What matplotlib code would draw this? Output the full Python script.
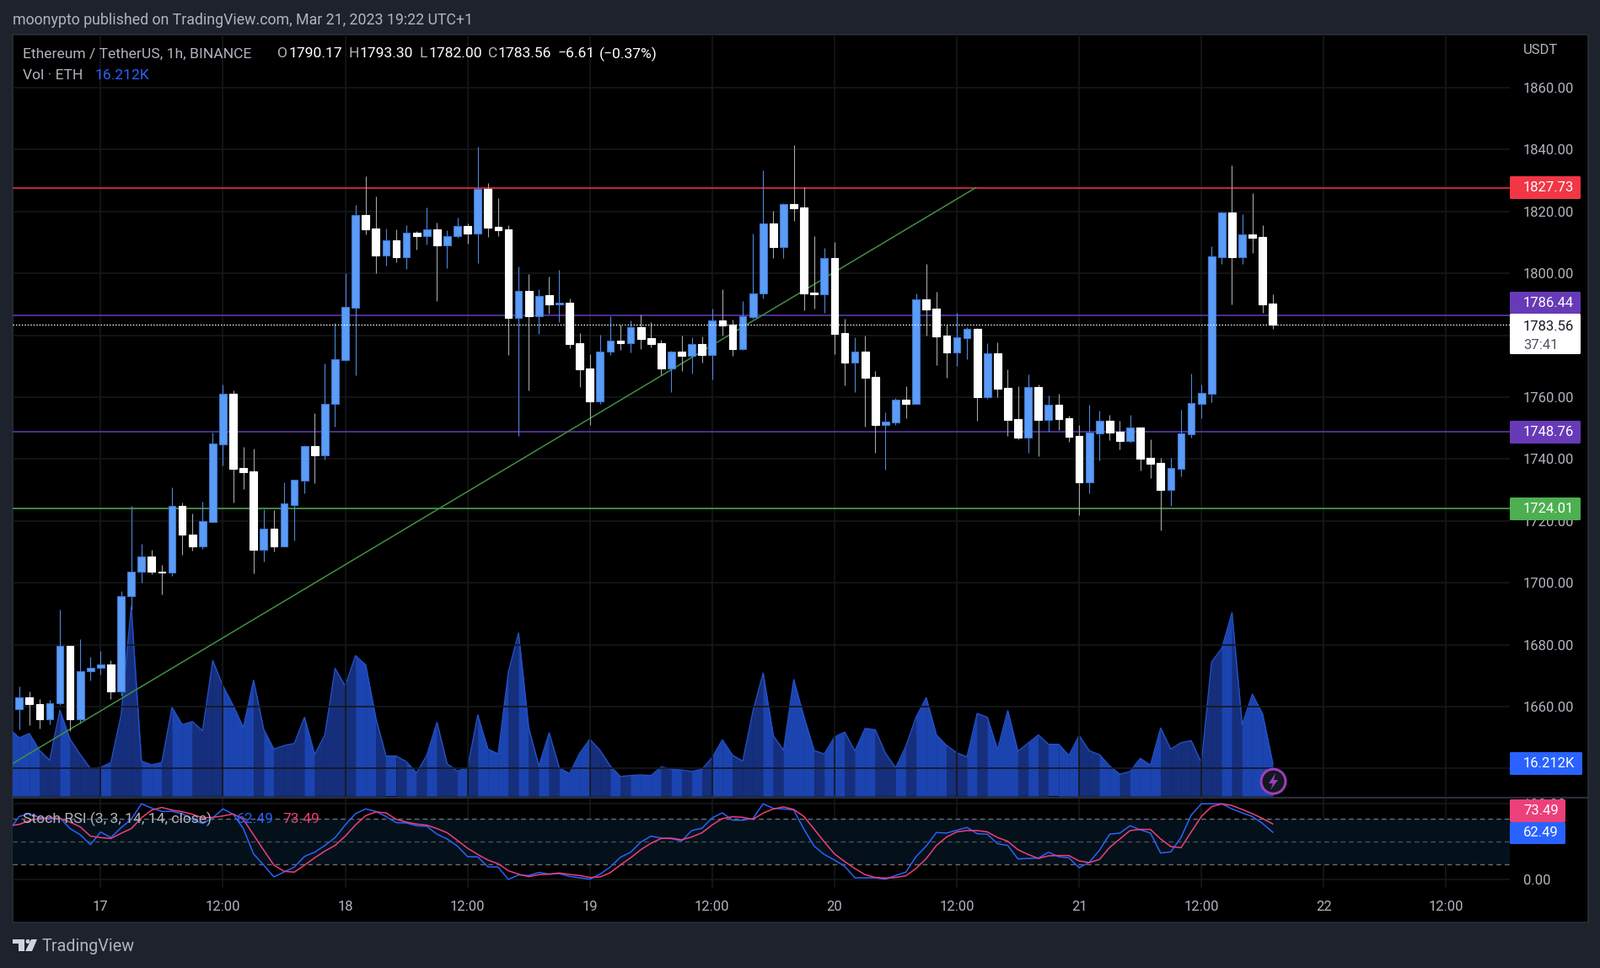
import matplotlib
matplotlib.use("Agg")
import matplotlib.pyplot as plt
from matplotlib.patches import FancyBboxPatch, Circle, Polygon, Rectangle

plt.rcParams["font.family"] = "Roboto"

# hourly candles, hour 0 = Mar 17 00:00, first candle is hour -8
opens = [1659.1, 1663.0, 1660.8, 1656.0, 1661.0, 1679.6, 1656.0, 1671.3, 1672.4, 1673.6, 1665.0, 1695.7,
         1703.6, 1708.5, 1703.6, 1703.2, 1724.8, 1715.6, 1711.9, 1719.8, 1744.8, 1761.0, 1737.0, 1735.9,
         1710.8, 1717.5, 1711.9, 1725.2, 1733.1, 1744.2, 1741.3, 1757.7, 1772.1, 1789.0, 1818.8, 1814.5,
         1805.9, 1810.7, 1805.3, 1813.2, 1812.2, 1814.3, 1809.2, 1812.2, 1815.3, 1813.0, 1827.3, 1815.1,
         1814.3, 1785.7, 1794.4, 1786.3, 1793.0, 1790.0, 1790.5, 1777.5, 1769.3, 1758.7, 1774.6, 1778.2,
         1777.5, 1782.6, 1779.0, 1777.5, 1769.3, 1774.7, 1773.4, 1777.2, 1773.6, 1784.8, 1783.5, 1775.6,
         1786.0, 1793.4, 1816.2, 1808.5, 1822.4, 1821.3, 1793.8, 1793.3, 1805.0, 1780.7, 1771.2, 1774.7,
         1766.6, 1751.0, 1751.8, 1759.2, 1757.8, 1791.6, 1788.6, 1779.9, 1774.5, 1779.1, 1782.1, 1760.0,
         1774.2, 1763.0, 1753.0, 1747.0, 1763.3, 1752.7, 1757.6, 1753.2, 1747.5, 1732.5, 1748.3, 1752.4,
         1748.9, 1745.9, 1750.2, 1740.4, 1738.8, 1730.1, 1736.9, 1748.0, 1757.8, 1761.2, 1805.3, 1819.7,
         1805.3, 1812.6, 1811.8, 1790.17]
highs = [1666.5, 1664.9, 1662.4, 1662.1, 1691.3, 1679.6, 1681.8, 1676.1, 1678.0, 1675.0, 1697.4, 1724.9,
         1712.6, 1710.7, 1705.8, 1730.9, 1726.0, 1722.4, 1726.3, 1748.5, 1764.1, 1762.1, 1743.9, 1743.3,
         1723.8, 1723.5, 1732.4, 1733.2, 1744.5, 1754.8, 1770.9, 1784.0, 1800.1, 1822.2, 1831.3, 1824.9,
         1814.5, 1814.2, 1815.6, 1813.7, 1821.3, 1816.4, 1814.0, 1818.1, 1816.2, 1841.0, 1829.2, 1824.3,
         1815.6, 1802.3, 1799.8, 1794.9, 1799.0, 1801.2, 1791.9, 1780.7, 1773.9, 1780.2, 1786.2, 1783.5,
         1784.8, 1786.6, 1784.2, 1778.5, 1775.0, 1779.9, 1779.4, 1779.6, 1788.6, 1794.9, 1785.1, 1791.1,
         1812.9, 1833.3, 1820.2, 1822.7, 1841.5, 1827.9, 1812.1, 1808.3, 1810.2, 1785.4, 1779.4, 1779.9,
         1768.5, 1755.1, 1759.8, 1763.6, 1793.5, 1803.1, 1794.1, 1783.5, 1787.3, 1782.6, 1782.3, 1777.5,
         1777.7, 1769.0, 1763.6, 1767.4, 1764.1, 1760.6, 1761.1, 1754.0, 1751.0, 1757.6, 1755.7, 1754.3,
         1752.4, 1754.3, 1750.2, 1746.4, 1740.4, 1740.4, 1755.9, 1767.7, 1764.1, 1808.8, 1820.0, 1834.9,
         1819.2, 1826.0, 1815.6, 1793.30]
lows = [1652.7, 1654.1, 1653.0, 1654.3, 1660.6, 1652.2, 1654.5, 1668.5, 1670.4, 1662.5, 1663.6, 1691.3,
        1700.1, 1702.9, 1696.3, 1702.3, 1709.1, 1710.5, 1711.0, 1719.8, 1737.8, 1726.0, 1730.4, 1703.1,
        1707.0, 1710.0, 1711.9, 1713.8, 1729.0, 1732.3, 1739.9, 1750.6, 1771.6, 1767.1, 1812.7, 1800.2,
        1802.5, 1803.6, 1801.4, 1807.7, 1809.4, 1791.1, 1801.7, 1811.5, 1809.6, 1803.4, 1811.8, 1812.1,
        1773.7, 1747.6, 1762.2, 1780.5, 1787.0, 1784.3, 1775.8, 1763.3, 1751.0, 1757.8, 1773.7, 1775.3,
        1774.5, 1775.6, 1776.1, 1767.0, 1761.7, 1768.5, 1767.6, 1771.2, 1765.7, 1779.9, 1773.4, 1775.3,
        1785.4, 1791.9, 1805.0, 1805.0, 1817.0, 1788.1, 1788.6, 1787.3, 1773.9, 1763.8, 1761.7, 1750.5,
        1742.0, 1736.6, 1751.0, 1753.2, 1757.8, 1779.9, 1770.4, 1766.3, 1770.1, 1772.3, 1752.4, 1759.5,
        1760.0, 1747.5, 1746.4, 1742.0, 1741.0, 1748.9, 1749.4, 1745.6, 1721.9, 1729.0, 1739.6, 1746.1,
        1743.1, 1745.3, 1736.3, 1733.9, 1717.0, 1724.9, 1734.4, 1747.0, 1753.2, 1758.4, 1803.1, 1790.0,
        1803.1, 1806.6, 1787.3, 1782.00]
closes = [1663.0, 1660.7, 1656.0, 1661.0, 1679.6, 1656.0, 1671.4, 1672.5, 1673.6, 1665.0, 1695.7, 1703.6,
          1708.5, 1703.5, 1703.2, 1724.8, 1715.5, 1711.9, 1719.9, 1744.9, 1761.0, 1736.9, 1735.8, 1710.8,
          1717.4, 1711.9, 1725.6, 1733.2, 1744.1, 1741.3, 1757.7, 1772.2, 1789.1, 1818.8, 1814.3, 1805.9,
          1810.6, 1805.3, 1813.1, 1812.2, 1814.2, 1809.2, 1812.2, 1815.2, 1813.0, 1827.2, 1814.9, 1814.0,
          1785.7, 1794.3, 1786.2, 1792.6, 1790.0, 1790.5, 1777.2, 1769.0, 1758.7, 1774.6, 1778.2, 1777.5,
          1782.5, 1778.8, 1777.2, 1769.3, 1774.6, 1773.4, 1777.1, 1773.6, 1784.7, 1783.2, 1775.6, 1786.1,
          1793.5, 1816.1, 1808.5, 1822.3, 1821.1, 1793.5, 1793.3, 1804.9, 1780.5, 1771.2, 1774.6, 1766.3,
          1751.0, 1752.1, 1759.1, 1757.8, 1791.5, 1788.4, 1779.6, 1774.5, 1779.4, 1782.1, 1760.0, 1774.1,
          1762.7, 1752.7, 1747.0, 1763.2, 1752.7, 1757.5, 1753.0, 1747.2, 1732.5, 1748.6, 1752.3, 1748.6,
          1745.9, 1750.1, 1740.1, 1738.5, 1730.1, 1737.0, 1748.2, 1758.0, 1761.4, 1805.4, 1819.6, 1805.3,
          1812.6, 1811.5, 1790.0, 1783.56]

# volume and stoch rsi start one hour earlier (hour -9)
volumes = [33.3, 28.7, 30.8, 22.5, 17.6, 42.3, 28.0, 20.4, 13.6, 14.1, 16.5, 39.8, 93.4, 17.2, 15.4, 16.5,
           43.7, 35.2, 36.7, 32.2, 66.8, 54.3, 44.6, 33.8, 57.1, 32.8, 23.1, 24.9, 25.9, 38.8, 20.5, 30.1,
           62.9, 54.3, 69.2, 64.7, 38.4, 19.7, 19.7, 16.9, 11.4, 20.1, 36.3, 15.8, 12.3, 13.9, 39.9, 23.1,
           20.8, 61.0, 80.4, 33.5, 14.8, 31.2, 13.9, 11.1, 21.1, 28.0, 22.5, 14.8, 9.6, 10.1, 10.4, 10.1,
           14.4, 13.2, 12.8, 12.1, 13.2, 19.0, 27.7, 20.1, 17.2, 41.9, 60.6, 29.7, 22.5, 57.4, 39.1, 22.5,
           20.7, 29.1, 31.5, 22.2, 33.3, 32.7, 21.1, 13.9, 24.5, 38.8, 48.5, 30.1, 24.9, 21.3, 19.3, 40.7,
           38.8, 22.9, 42.1, 22.0, 26.1, 30.1, 25.5, 25.5, 20.0, 29.8, 22.3, 20.4, 14.8, 10.7, 12.1, 18.6,
           15.2, 33.5, 23.1, 26.3, 27.3, 16.5, 66.1, 72.8, 90.4, 35.2, 50.2, 40.5, 16.212]
stoch_k = [64.8, 83.3, 87.0, 82.2, 79.6, 81.5, 67.4, 59.2, 46.3, 62.9, 55.5, 68.5, 79.6, 100.0, 94.4, 90.0,
           90.0, 87.0, 79.6, 74.0, 81.5, 93.3, 86.3, 67.4, 34.0, 19.2, 3.7, 10.3, 16.6, 30.7, 36.3, 45.2,
           55.5, 72.2, 87.0, 93.3, 90.0, 83.3, 75.2, 74.8, 71.1, 70.4, 60.0, 53.7, 44.4, 30.4, 30.0, 17.0,
           16.7, 0.4, 6.3, 5.6, 9.6, 7.4, 8.1, 4.4, 2.6, 0.7, 7.4, 16.7, 29.6, 36.3, 49.6, 57.4, 54.8,
           54.1, 51.1, 64.8, 67.8, 81.5, 88.1, 78.5, 78.5, 80.7, 100.0, 94.0, 93.3, 91.9, 66.7, 44.4, 33.3,
           25.9, 17.8, 2.6, 2.6, 2.6, 0.7, 5.6, 10.0, 30.4, 44.4, 62.2, 61.5, 65.2, 68.9, 60.7, 60.0, 47.4,
           45.2, 27.4, 28.1, 28.5, 36.3, 30.4, 28.9, 15.9, 23.0, 38.9, 60.0, 61.5, 71.1, 65.9, 61.5, 35.2,
           36.7, 55.6, 85.2, 100.0, 100.0, 100.0, 93.3, 88.1, 83.3, 74.1, 62.49]
stoch_d = [71.1, 72.9, 77.8, 80.7, 81.5, 80.7, 75.9, 69.6, 57.4, 55.5, 54.4, 61.1, 67.4, 81.5, 91.8, 95.2,
           91.8, 89.6, 86.3, 81.5, 82.2, 84.0, 86.6, 79.6, 59.2, 38.9, 19.2, 11.1, 10.0, 19.2, 28.9, 37.8,
           45.2, 57.4, 72.2, 84.4, 89.3, 88.1, 79.6, 75.9, 73.3, 71.9, 67.4, 61.9, 51.9, 41.5, 33.3, 25.9,
           21.1, 11.9, 7.4, 4.1, 6.7, 7.4, 8.9, 7.0, 5.6, 3.0, 3.7, 9.3, 19.6, 28.9, 39.6, 48.1, 54.4,
           54.8, 52.6, 56.3, 61.9, 72.2, 80.7, 83.0, 82.2, 79.6, 87.8, 93.3, 95.9, 92.6, 83.3, 66.7, 50.0,
           34.0, 24.0, 14.8, 6.7, 3.0, 2.2, 3.0, 5.2, 14.8, 27.8, 45.2, 56.3, 63.0, 64.8, 64.8, 63.0, 55.6,
           50.7, 39.6, 33.3, 28.1, 31.5, 31.9, 31.9, 24.8, 22.6, 26.7, 42.6, 53.7, 64.8, 66.3, 66.3, 53.7,
           43.7, 42.2, 63.0, 83.3, 96.3, 100.0, 97.8, 92.6, 87.0, 80.7, 73.49]

price_ticks = [1640, 1660, 1680, 1700, 1720, 1740, 1760, 1780, 1800, 1820, 1840, 1860]
time_ticks = [0, 12, 24, 36, 48, 60, 72, 84, 96, 108, 120, 132]
time_labels = ["17", "12:00", "18", "12:00", "19", "12:00", "20", "12:00", "21", "12:00", "22", "12:00"]
trend_hours = [-8.63, 85.87]
trend_prices = [1641.6, 1827.73]
level_high = 1827.73
level_mid1 = 1786.44
level_mid2 = 1748.76
level_low = 1724.01
last_price = 1783.56

W, H = 1899, 1148
BG = "#1e222d"
GRID = "#15171b"
TXT = "#b2b5be"
BLUE = "#5b9cf6"
X_RANGE = (-8.635, 138.26)


def px_axes(left, top, right, bottom, z):
    a = fig.add_axes([left / W, 1 - bottom / H, (right - left) / W, (bottom - top) / H], zorder=z)
    a.patch.set_alpha(0)
    for s in a.spines.values():
        s.set_visible(False)
    return a


fig = plt.figure(figsize=(W / 100, H / 100), dpi=100, facecolor=BG)

# overlay in pixel coords for frame, legend text and price tags
back = px_axes(0, 0, W, H, 0)
back.set_xlim(0, W)
back.set_ylim(H, 0)
back.axis("off")
back.add_patch(Rectangle((15, 41), 1869, 1053, fc="black", ec="#2a2e39", lw=1.2))

# volume pane sits under the candles
vol_ax = px_axes(15, 41, 1791, 944, 1)
vol_ax.set_xlim(*X_RANGE)
vol_ax.set_ylim(0, 375.4)
vol_ax.axis("off")
vol_hours = list(range(-9, 116))
for i in range(len(vol_hours) - 1):
    # candle index is one behind the volume index
    down = i == 0 or closes[i] < opens[i]
    vol_ax.fill_between(vol_hours[i:i + 2], volumes[i:i + 2], 0, color="#1c44b0" if down else "#162f7c", lw=0.3)
vol_ax.plot(vol_hours, volumes, color="#2450c8", lw=1)

# candles
ax = px_axes(15, 41, 1791, 944, 2)
ax.set_xlim(*X_RANGE)
ax.set_ylim(1631.1, 1877.2)
ax.set_xticks(time_ticks)
ax.set_yticks(price_ticks)
ax.set_yticklabels(["%.2f" % p for p in price_ticks])
ax.yaxis.tick_right()
ax.tick_params(axis="y", length=0, pad=11.5, labelsize=12, labelcolor=TXT)
ax.tick_params(axis="x", length=0, labelbottom=False)
ax.grid(True, color=GRID, lw=1.2)
ax.set_axisbelow(True)

hours = list(range(-8, 116))
ax.hlines(level_high, *X_RANGE, color="#f23645", lw=1.1, zorder=2)
ax.hlines(level_mid1, *X_RANGE, color="#673ab7", lw=1.1, zorder=2)
ax.hlines(level_mid2, *X_RANGE, color="#673ab7", lw=1.1, zorder=2)
ax.hlines(level_low, *X_RANGE, color="#4caf50", lw=1.1, zorder=2)
ax.plot(trend_hours, trend_prices, color="#3f9142", lw=1.1, zorder=2)

up = [c >= o for o, c in zip(opens, closes)]
wick_colors = ["#4f86dc" if u else "#a6a6a6" for u in up]
ax.vlines(hours, lows, highs, colors=wick_colors, lw=0.8, zorder=3)
body_bottom = [min(o, c) for o, c in zip(opens, closes)]
body_height = [abs(c - o) for o, c in zip(opens, closes)]
ax.bar(hours, body_height, bottom=body_bottom, width=0.72,
       color=[BLUE if u else "white" for u in up],
       edgecolor=["#3f76cc" if u else "white" for u in up], lw=0.8, zorder=4)
ax.hlines(last_price, X_RANGE[0], 115.4, color="white", lw=1, linestyles=(0, (1, 1.5)), zorder=5)
ax.hlines(last_price, 115.4, X_RANGE[1], color="white", lw=1, linestyles=(0, (1, 1.5)), zorder=5)

# stoch rsi pane
st = px_axes(15, 946, 1791, 1052.7, 3)
st.set_xlim(*X_RANGE)
st.set_ylim(-10.4, 108.1)
st.set_xticks(time_ticks)
st.set_xticklabels(time_labels)
st.set_yticks([0, 100])
st.set_yticklabels(["0.00", "100.00"])
st.yaxis.tick_right()
st.tick_params(axis="both", length=0, labelsize=12, labelcolor=TXT)
st.tick_params(axis="y", pad=11.5)
st.tick_params(axis="x", pad=11)
st.grid(True, color=GRID, lw=1.2)
st.set_axisbelow(True)
st.axhspan(20, 80, color="#05111a", lw=0, zorder=1)
for lvl in [80, 50, 20]:
    st.axhline(lvl, color="#787b86", lw=1, dashes=(4, 3), zorder=1.5, alpha=0.9 if lvl != 50 else 0.6)
st.plot(vol_hours, stoch_k, color="#2962ff", lw=1.1, zorder=3)
st.plot(vol_hours, stoch_d, color="#ec407a", lw=1.1, zorder=3)

# top layer: tags and legend
top = px_axes(0, 0, W, H, 5)
top.set_xlim(0, W)
top.set_ylim(H, 0)
top.axis("off")
top.plot([15, 1884], [946, 946], color="#2a2e39", lw=1.6)


def tag(y0, y1, right, fc, label, color="white", label2=None):
    top.add_patch(FancyBboxPatch((1791, y0), right - 1791, y1 - y0, boxstyle="round,pad=0,rounding_size=1.5",
                                 fc=fc, ec="none"))
    if label2:
        top.text(1807, y0 + 15, label, color=color, fontsize=12, va="center")
        top.text(1807, y0 + 37, label2, color="#50535e", fontsize=12, va="center")
    else:
        top.text(1807, (y0 + y1) / 2, label, color=color, fontsize=12, va="center")


tag(209, 236, 1875, "#f23645", "%.2f" % level_high)
tag(346, 372, 1875, "#673ab7", "%.2f" % level_mid1)
tag(372, 420, 1875, "white", "%.2f" % last_price, color="#131722", label2="37:41")
tag(499, 526, 1875, "#673ab7", "%.2f" % level_mid2)
tag(590, 617, 1875, "#4caf50", "%.2f" % level_low)
tag(892, 919, 1877, "#2962ff", "16.212K")
tag(948, 975, 1857, "#ec407a", "73.49")
tag(975, 1001, 1857, "#2962ff", "62.49")

top.text(1807, 60, "USDT", color=TXT, fontsize=12, va="center")

top.text(15, 24, "moonypto published on TradingView.com, Mar 21, 2023 19:22 UTC+1", color=TXT, fontsize=12.8, va="center")
top.text(27, 64, "Ethereum / TetherUS, 1h, BINANCE", color=TXT, fontsize=12.6, va="center")
for x, s, c in [(329, "O", TXT), (343, "1790.17", "white"), (414, "H", TXT), (427, "1793.30", "white"),
                (498, "L", TXT), (509, "1782.00", "white"), (579, "C", TXT), (591, "1783.56", "white"),
                (662, "\u22126.61", "white"), (711, "(\u22120.37%)", "white")]:
    top.text(x, 64, s, color=c, fontsize=12.6, va="center")
top.text(27, 90, "Vol \u00b7 ETH", color=TXT, fontsize=12.6, va="center")
top.text(113, 90, "16.212K", color="#2962ff", fontsize=12.6, va="center")
top.text(27, 971, "Stoch RSI (3, 3, 14, 14, close)", color=TXT, fontsize=12.6, va="center")
top.text(281, 971, "62.49", color="#2962ff", fontsize=12.6, va="center")
top.text(335, 971, "73.49", color="#ec407a", fontsize=12.6, va="center")

# lightning icon
top.add_patch(Circle((1510.5, 926.7), 14.5, fc="#131722", ec="#9c3fb8", lw=2.2))
top.add_patch(Polygon([(1513, 917), (1505, 929), (1510, 929), (1507, 937), (1516, 925), (1511, 925)], fc="#9c3fb8", ec="none"))

# TradingView logo
logo = "#d1d4dc"
top.add_patch(Polygon([(15, 1114), (29, 1114), (29, 1128), (22, 1128), (22, 1119), (15, 1119)], fc=logo, ec="none"))
top.add_patch(Circle((33, 1116.5), 2.5, fc=logo, ec="none"))
top.add_patch(Polygon([(37, 1114), (44, 1114), (38, 1128), (30, 1128)], fc=logo, ec="none"))
top.text(50, 1122, "TradingView", color=TXT, fontsize=14.2, va="center")

fig.savefig("out.png", dpi=100, facecolor=BG)
